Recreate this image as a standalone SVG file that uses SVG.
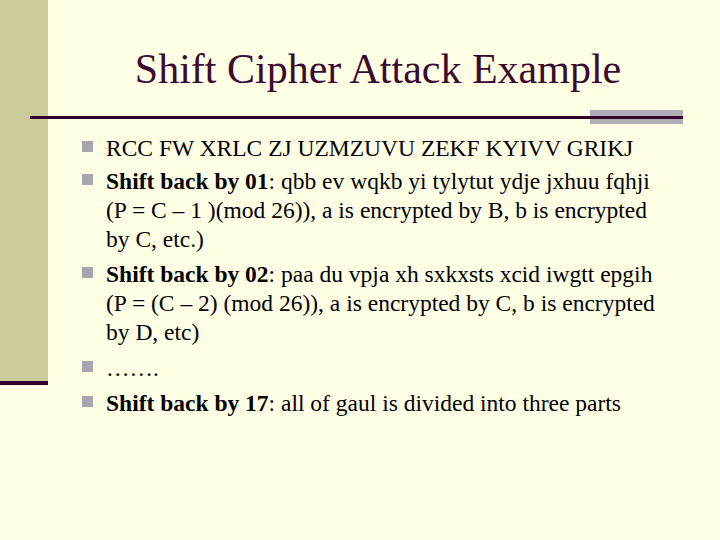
<svg xmlns="http://www.w3.org/2000/svg" width="720" height="540" viewBox="0 0 720 540">
<style>
.t{font-family:"Liberation Serif",serif;font-size:23.5px;fill:#000}
.b{font-weight:bold}
.sq{fill:#a6a6ae}
</style>
<rect width="720" height="540" fill="#ffffe5"/>
<rect x="0" y="0" width="48" height="382" fill="#cccc99"/>
<rect x="0" y="381" width="48" height="4" fill="#33002b"/>
<rect x="590" y="110" width="93" height="14" fill="#aeaeb4"/>
<rect x="30" y="116" width="653" height="3" fill="#33002b"/>
<text x="378" y="83" text-anchor="middle" font-family="Liberation Serif,serif" font-size="42" fill="#3b0a30">Shift Cipher Attack Example</text>
<g id="bullets">
<rect class="sq" x="82" y="141" width="11" height="11"/>
<rect class="sq" x="82" y="174" width="11" height="11"/>
<rect class="sq" x="82" y="267" width="11" height="11"/>
<rect class="sq" x="82" y="361" width="11" height="11"/>
<rect class="sq" x="82" y="396" width="11" height="11"/>
</g>
<g id="text">
<text class="t" x="106" y="156">RCC FW XRLC ZJ UZMZUVU ZEKF KYIVV GRIKJ</text>
<text class="t" x="106" y="189"><tspan class="b">Shift back by 01</tspan>: qbb ev wqkb yi tylytut ydje jxhuu fqhji</text>
<text class="t" x="106" y="218">(P = C – 1 )(mod 26)), a is encrypted by B, b is encrypted</text>
<text class="t" x="106" y="247">by C, etc.)</text>
<text class="t" x="106" y="282"><tspan class="b">Shift back by 02</tspan>: paa du vpja xh sxkxsts xcid iwgtt epgih</text>
<text class="t" x="106" y="311">(P = (C – 2) (mod 26)), a is encrypted by C, b is encrypted</text>
<text class="t" x="106" y="340">by D, etc)</text>
<text class="t" x="106" y="376">…….</text>
<text class="t" x="106" y="411"><tspan class="b">Shift back by 17</tspan>: all of gaul is divided into three parts</text>
</g>
</svg>
